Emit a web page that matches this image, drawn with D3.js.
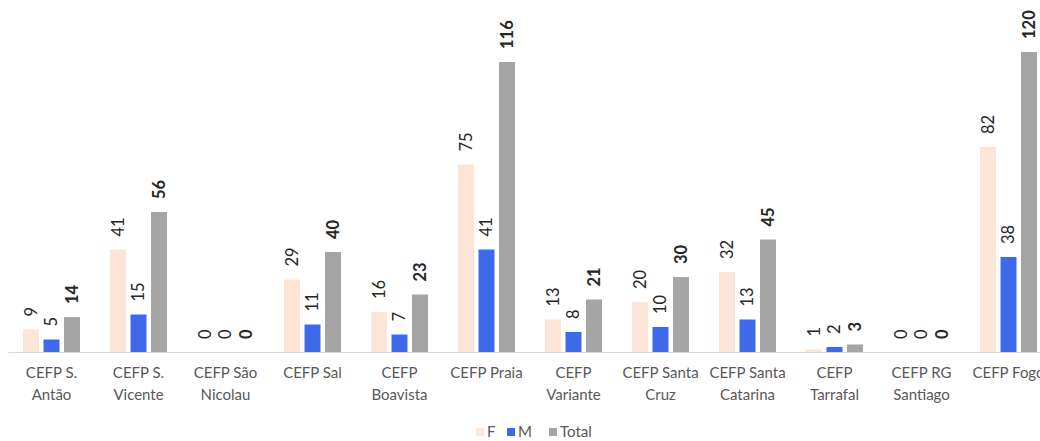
<!DOCTYPE html>
<html><head><meta charset="utf-8">
<script src="https://cdn.jsdelivr.net/npm/d3@7"></script>
<style>body{margin:0;background:#fff}svg{display:block}</style>
</head><body><svg id="c" width="1040" height="441"></svg>
<script>
const categories = ["CEFP S. Antão","CEFP S. Vicente","CEFP São Nicolau","CEFP Sal","CEFP Boavista","CEFP Praia","CEFP Variante","CEFP Santa Cruz","CEFP Santa Catarina","CEFP Tarrafal","CEFP RG Santiago","CEFP Fogo"];
const seriesNames = ["F","M","Total"];
const valuesF = [9,41,0,29,16,75,13,20,32,1,0,82];
const valuesM = [5,15,0,11,7,41,8,10,13,2,0,38];
const valuesTotal = [14,56,0,40,23,116,21,30,45,3,0,120];
const colors = ["#fce4d6","#3e6ae9","#a5a5a5"];

(function(){
const svg = d3.select("#c");
const font = "Lato, 'Open Sans', sans-serif";
const mLeft = 8, mRight = 1052, mTop = 2, base = 352;
const x = d3.scaleBand().domain(categories).range([mLeft, mRight]).paddingInner(0).paddingOuter(0);
const x1 = d3.scaleBand().domain(seriesNames).range([0, 57]).paddingInner(0.22);
const y = d3.scaleLinear().domain([0,140]).range([base, mTop]);
const series = [valuesF, valuesM, valuesTotal];

const groupOffset = (x.bandwidth() - 57) / 2;
const g = svg.append("g");
series.forEach((vals, si) => {
  g.selectAll(null).data(vals).enter().append("rect")
    .attr("x", (d,i) => x(categories[i]) + groupOffset + x1(seriesNames[si]))
    .attr("width", x1.bandwidth())
    .attr("y", d => y(d))
    .attr("height", d => base - y(d))
    .attr("fill", colors[si]);
  g.selectAll(null).data(vals).enter().append("text")
    .attr("transform", (d,i) => {
      const cx = x(categories[i]) + groupOffset + x1(seriesNames[si]) + x1.bandwidth()/2;
      return `translate(${cx},${y(d) - 13}) rotate(-90)`;
    })
    .attr("dy", "0.35em")
    .attr("text-anchor", "start")
    .attr("font-family", font)
    .attr("font-size", 16.5)
    .attr("font-weight", si === 2 ? "bold" : "normal")
    .attr("fill", "#262626")
    .text(d => d);
});

const axis = svg.append("g").attr("transform", `translate(0,${base})`)
  .call(d3.axisBottom(x).tickSize(0).tickFormat(""));
axis.select(".domain").attr("stroke", "#d9d9d9").attr("stroke-width", 1.2);

const lines = {"CEFP S. Antão":["CEFP S.","Antão"],"CEFP S. Vicente":["CEFP S.","Vicente"],"CEFP São Nicolau":["CEFP São","Nicolau"],"CEFP Boavista":["CEFP","Boavista"],"CEFP Variante":["CEFP","Variante"],"CEFP Santa Cruz":["CEFP Santa","Cruz"],"CEFP Santa Catarina":["CEFP Santa","Catarina"],"CEFP Tarrafal":["CEFP","Tarrafal"],"CEFP RG Santiago":["CEFP RG","Santiago"]};
categories.forEach(c => {
  const t = svg.append("text")
    .attr("x", x(c) + x.bandwidth()/2)
    .attr("y", 378)
    .attr("text-anchor", "middle")
    .attr("font-family", font)
    .attr("font-size", 15)
    .attr("fill", "#595959");
  (lines[c] || [c]).forEach((l, k) => {
    t.append("tspan").attr("x", x(c) + x.bandwidth()/2).attr("dy", k === 0 ? 0 : 22).text(l);
  });
});

const legend = [{n:"F",x:476},{n:"M",x:507},{n:"Total",x:549}];
legend.forEach((l, i) => {
  svg.append("rect").attr("x", l.x).attr("y", 428).attr("width", 8).attr("height", 8).attr("fill", colors[i]);
  svg.append("text").attr("x", l.x + 11).attr("y", 432).attr("dy", "0.35em")
    .attr("font-family", font).attr("font-size", 15).attr("fill", "#595959").text(l.n);
});
})();
</script></body></html>
